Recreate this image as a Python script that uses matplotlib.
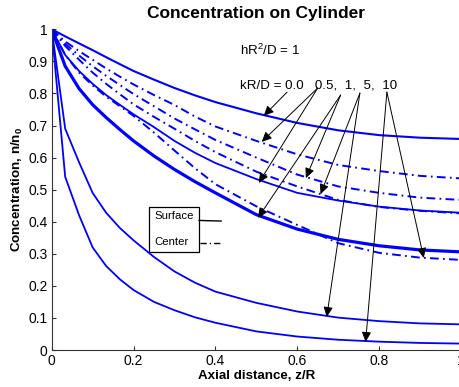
import numpy as np
from matplotlib import pyplot as plt
from matplotlib.patches import Rectangle

plt.rcParams['font.family'] = ['Liberation Sans', 'DejaVu Sans']
plt.rcParams['mathtext.fontset'] = 'custom'
plt.rcParams['mathtext.rm'] = 'Liberation Sans'
plt.rcParams['mathtext.bf'] = 'Liberation Sans:bold'
plt.rcParams['mathtext.default'] = 'regular'

# Axial positions (z/R) where the curves were read
z = [0, 0.033, 0.067, 0.1, 0.133, 0.167, 0.2, 0.25, 0.3, 0.35, 0.4, 0.5, 0.6, 0.7, 0.8, 0.9, 1.0]

# Surface concentration (solid lines)
surf_00 = [1, 0.978, 0.956, 0.935, 0.913, 0.891, 0.870, 0.843, 0.817, 0.794, 0.773, 0.738, 0.708, 0.685, 0.670, 0.662, 0.658]
surf_05 = [1, 0.920, 0.870, 0.830, 0.795, 0.764, 0.735, 0.695, 0.652, 0.615, 0.583, 0.533, 0.490, 0.466, 0.447, 0.435, 0.428]
surf_1 = [1, 0.885, 0.815, 0.765, 0.725, 0.687, 0.652, 0.605, 0.563, 0.525, 0.490, 0.422, 0.377, 0.345, 0.325, 0.312, 0.306]
surf_5 = [1, 0.690, 0.585, 0.490, 0.428, 0.380, 0.342, 0.290, 0.245, 0.210, 0.182, 0.147, 0.120, 0.101, 0.090, 0.083, 0.080]
surf_10 = [1, 0.540, 0.420, 0.320, 0.262, 0.220, 0.187, 0.150, 0.124, 0.102, 0.085, 0.058, 0.042, 0.032, 0.026, 0.022, 0.020]

# Center concentration (dash-dot lines)
cent_05 = [1, 0.962, 0.932, 0.905, 0.878, 0.852, 0.828, 0.795, 0.764, 0.728, 0.697, 0.652, 0.610, 0.577, 0.558, 0.543, 0.535]
cent_1 = [1, 0.955, 0.918, 0.885, 0.855, 0.826, 0.798, 0.760, 0.722, 0.688, 0.655, 0.600, 0.547, 0.510, 0.490, 0.475, 0.468]
cent_5 = [1, 0.948, 0.905, 0.865, 0.830, 0.797, 0.766, 0.727, 0.690, 0.652, 0.617, 0.556, 0.510, 0.468, 0.446, 0.434, 0.426]
cent_10 = [1, 0.920, 0.865, 0.825, 0.790, 0.760, 0.730, 0.678, 0.622, 0.567, 0.517, 0.448, 0.390, 0.333, 0.303, 0.288, 0.281]

y_ticks = [0, 0.1, 0.2, 0.3, 0.4, 0.5, 0.6, 0.7, 0.8, 0.9, 1]
y_labels = ['0', '0.1', '0.2', '0.3', '0.4', '0.5', '0.6', '0.7', '0.8', '0.9', '1']
x_ticks = [0, 0.2, 0.4, 0.6, 0.8, 1]
x_labels = ['0', '0.2', '0.4', '0.6', '0.8', '1']

# Arrow start (under the kR/D label) and tip on each curve
arrows = [((0.575, 0.804), (0.518, 0.730)),
          ((0.650, 0.817), (0.513, 0.649)),
          ((0.650, 0.817), (0.506, 0.521)),
          ((0.706, 0.795), (0.621, 0.536)),
          ((0.706, 0.795), (0.504, 0.412)),
          ((0.753, 0.801), (0.657, 0.486)),
          ((0.753, 0.801), (0.672, 0.103)),
          ((0.819, 0.804), (0.767, 0.025)),
          ((0.819, 0.804), (0.909, 0.287))]

fig = plt.figure(figsize=(4.59, 3.87), dpi=100)
ax = fig.add_axes([0.1126, 0.0956, 0.8917, 0.8287])

blue = '#0000ff'
dashdot = (0, (4.5, 2.2, 0.9, 2.2))

ax.plot(z, surf_00, color=blue, lw=1.5)
ax.plot(z, surf_05, color=blue, lw=1.3)
ax.plot(z, surf_1, color=blue, lw=2.3)
ax.plot(z, surf_5, color=blue, lw=1.3)
ax.plot(z, surf_10, color=blue, lw=1.3)

for c in [cent_05, cent_1, cent_5, cent_10]:
    ax.plot(z, c, color=blue, lw=1.4, linestyle=dashdot)

for start, tip in arrows:
    ax.annotate('', xy=tip, xytext=start,
                arrowprops=dict(arrowstyle='-|>,head_length=0.6,head_width=0.28',
                                color='black', lw=0.7, shrinkA=0, shrinkB=0))

ax.text(0.46, 0.935, 'hR$^2$/D = 1', fontsize=9.6, va='center', ha='left')
ax.text(0.46, 0.826, 'kR/D = 0.0   0.5,  1,  5,  10', fontsize=9.6, va='center', ha='left')

# Hand-drawn style legend box
ax.add_patch(Rectangle((0.238, 0.306), 0.122, 0.140, fill=False, edgecolor='black', lw=0.9))
ax.text(0.250, 0.417, 'Surface', fontsize=8.2, va='center', ha='left')
ax.text(0.250, 0.336, 'Center', fontsize=8.2, va='center', ha='left')
ax.plot([0.36, 0.414], [0.404, 0.402], color='black', lw=1.0)
ax.plot([0.362, 0.418], [0.334, 0.334], color='black', lw=1.0, linestyle=dashdot)

ax.set_xlim(0, 1)
ax.set_ylim(0, 1)
ax.set_xticks(x_ticks)
ax.set_xticklabels(x_labels)
ax.set_yticks(y_ticks)
ax.set_yticklabels(y_labels)
ax.tick_params(direction='in', length=3, width=0.8, labelsize=10, color='#333333', pad=3)
ax.spines['top'].set_visible(False)
ax.spines['right'].set_visible(False)
ax.spines['left'].set_color('#333333')
ax.spines['bottom'].set_color('#333333')

ax.set_title('Concentration on Cylinder', fontsize=12.5, fontweight='bold', pad=8)
ax.set_xlabel('Axial distance, z/R', fontsize=9.6, fontweight='bold', labelpad=1)
ax.set_ylabel(r'Concentration, n/n$_\mathbf{0}$', fontsize=9.6, fontweight='bold', labelpad=2)

fig.savefig('out.png', dpi=100)
